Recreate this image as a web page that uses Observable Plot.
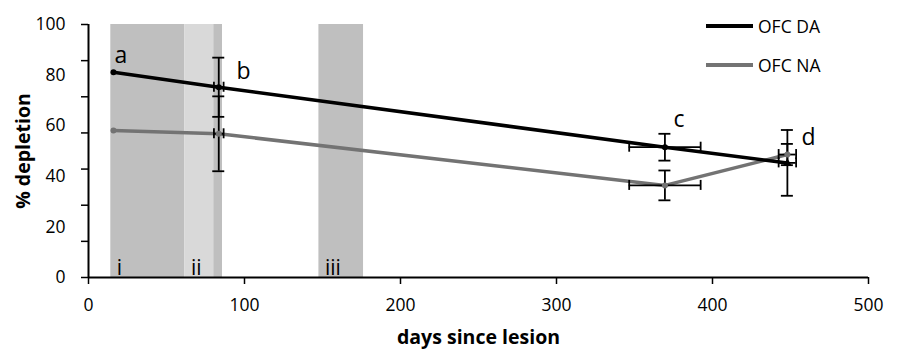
<!DOCTYPE html>
<html>
<head>
<meta charset="utf-8">
<script src="https://cdn.jsdelivr.net/npm/d3@7"></script>
<script src="https://cdn.jsdelivr.net/npm/@observablehq/plot@0.6"></script>
<style>
  html, body { margin: 0; padding: 0; background: #fff; }
  #wrap { position: relative; width: 899px; height: 352px; font-family: "Open Sans", sans-serif; }
  #legend { position: absolute; left: 706px; top: 12px; font-size: 17.5px; color: #000; }
  #legend .item { display: flex; align-items: center; height: 28px; margin-bottom: 11px; }
  #legend .sw { width: 47px; height: 3.5px; margin-right: 5px; }
</style>
</head>
<body>
<div id="wrap"><div id="legend"></div></div>
<script>
// ---- data ----
const days = [16, 83.5, 369.5, 448];
const daPct = [81.1, 75.2, 51.5, 45.3];
const naPct = [58.1, 56.8, 36.4, 48.6];
const daErr = [null, 11.7, 5.3, 13.0];
const naErr = [null, 14.8, 5.9, 4.2];
const dayErr = [null, 3.1, 22.9, 5.6];
const daSymbol = ["circle", "circle", "circle", "triangle"];

const bandStart = [14.3, 61.8, 80.3, 147.7];
const bandEnd = [61.8, 80.3, 85.9, 176.3];
const bandShade = ["dark", "light", "dark", "dark"];
const bandLabels = ["i", "ii", "", "iii"];

const letters = ["a", "b", "c", "d"];
const letterDay = [20.8, 99.3, 378.6, 461.5];
const letterPct = [87.7, 81.4, 62.4, 55.3];

const seriesNames = ["OFC DA", "OFC NA"];
const seriesColors = ["#000000", "#737373"];

const xTickLabels = [0, 100, 200, 300, 400, 500];
const yTickLabels = [0, 20, 40, 60, 80, 100];
const yTickMarks = d3.range(8).map(i => i * 100 / 7);

// ---- tables ----
const bands = bandStart.map((s, i) => ({ start: s, end: bandEnd[i], shade: bandShade[i], label: bandLabels[i] }));
const mk = (pct, err, name) => days.map((d, i) => ({
  day: d, pct: pct[i], err: err[i], dErr: dayErr[i], name, symbol: name === "OFC DA" ? daSymbol[i] : "circle"
}));
const da = mk(daPct, daErr, "OFC DA");
const na = mk(naPct, naErr, "OFC NA");
const all = [...da, ...na];
const withErr = all.filter(d => d.err != null);
const notes = letters.map((t, i) => ({ t, x: letterDay[i], y: letterPct[i] }));

const errorColor = "#000";

const chart = Plot.plot({
  width: 899,
  height: 352,
  marginLeft: 88,
  marginRight: 31,
  marginTop: 24,
  marginBottom: 75,
  style: { fontFamily: "Open Sans, sans-serif", background: "#fff", color: "#000" },
  x: { domain: [0, 500] },
  y: { domain: [0, 100] },
  color: { domain: ["dark", "light"], range: ["#bfbfbf", "#d9d9d9"] },
  marks: [
    Plot.rect(bands, { x1: "start", x2: "end", y1: 0, y2: 100, fill: "shade" }),
    Plot.text(bands, { x: "start", y: 0, text: "label", textAnchor: "start", lineAnchor: "bottom", dx: 6, dy: -3, fontSize: 21, fill: "#000" }),
    // y tick marks (7 intervals) and labels
    Plot.axisY({ ticks: yTickMarks, tickFormat: () => "", tickSize: 7, strokeWidth: 1.5, label: null }),
    Plot.axisY({ ticks: yTickLabels, tickSize: 0, tickPadding: 23, fontSize: 17.5, label: "% depletion",
      labelAnchor: "center", labelArrow: "none", labelOffset: 72 }),
    Plot.axisX({ ticks: xTickLabels, tickSize: 7, tickPadding: 14, strokeWidth: 1.5, fontSize: 17.5,
      label: "days since lesion", labelAnchor: "center", labelArrow: "none", labelOffset: 66 }),
    Plot.ruleX([0], { strokeWidth: 2 }),
    Plot.ruleY([0], { strokeWidth: 2 }),
    // series lines
    Plot.line(na, { x: "day", y: "pct", stroke: seriesColors[1], strokeWidth: 3.5 }),
    Plot.line(da, { x: "day", y: "pct", stroke: seriesColors[0], strokeWidth: 3.5 }),
    // vertical error bars
    Plot.ruleX(withErr, { x: "day", y1: d => d.pct - d.err, y2: d => d.pct + d.err, stroke: errorColor, strokeWidth: 1.8 }),
    Plot.ruleY(withErr, { y: d => d.pct - d.err, x1: "day", x2: "day", insetLeft: -6, insetRight: -6, stroke: errorColor, strokeWidth: 1.8 }),
    Plot.ruleY(withErr, { y: d => d.pct + d.err, x1: "day", x2: "day", insetLeft: -6, insetRight: -6, stroke: errorColor, strokeWidth: 1.8 }),
    // horizontal error bars
    Plot.ruleY(withErr, { y: "pct", x1: d => d.day - d.dErr, x2: d => d.day + d.dErr, stroke: errorColor, strokeWidth: 1.8 }),
    Plot.ruleX(withErr, { x: d => d.day - d.dErr, y1: "pct", y2: "pct", insetTop: -5, insetBottom: -5, stroke: errorColor, strokeWidth: 1.8 }),
    Plot.ruleX(withErr, { x: d => d.day + d.dErr, y1: "pct", y2: "pct", insetTop: -5, insetBottom: -5, stroke: errorColor, strokeWidth: 1.8 }),
    // markers
    Plot.dot(na, { x: "day", y: "pct", r: 3, fill: seriesColors[1], stroke: "none" }),
    Plot.dot(da, { x: "day", y: "pct", r: 3, symbol: "symbol", fill: seriesColors[0], stroke: "none" }),
    // point letters
    Plot.text(notes, { x: "x", y: "y", text: "t", fontSize: 23, fill: "#000" })
  ]
});

const svg = chart;
const yl = svg.querySelector('[aria-label="y-axis label"]');
if (yl) { yl.setAttribute("font-weight", "bold"); yl.setAttribute("font-size", "19.5"); }
const xl = svg.querySelector('[aria-label="x-axis label"]');
if (xl) { xl.setAttribute("font-weight", "bold"); xl.setAttribute("font-size", "19.5"); }

const wrap = document.getElementById("wrap");
wrap.insertBefore(chart, wrap.firstChild);

const legend = document.getElementById("legend");
seriesNames.forEach((n, i) => {
  const item = document.createElement("div");
  item.className = "item";
  const sw = document.createElement("span");
  sw.className = "sw";
  sw.style.background = seriesColors[i];
  const lab = document.createElement("span");
  lab.textContent = n;
  item.appendChild(sw);
  item.appendChild(lab);
  legend.appendChild(item);
});
</script>
</body>
</html>
